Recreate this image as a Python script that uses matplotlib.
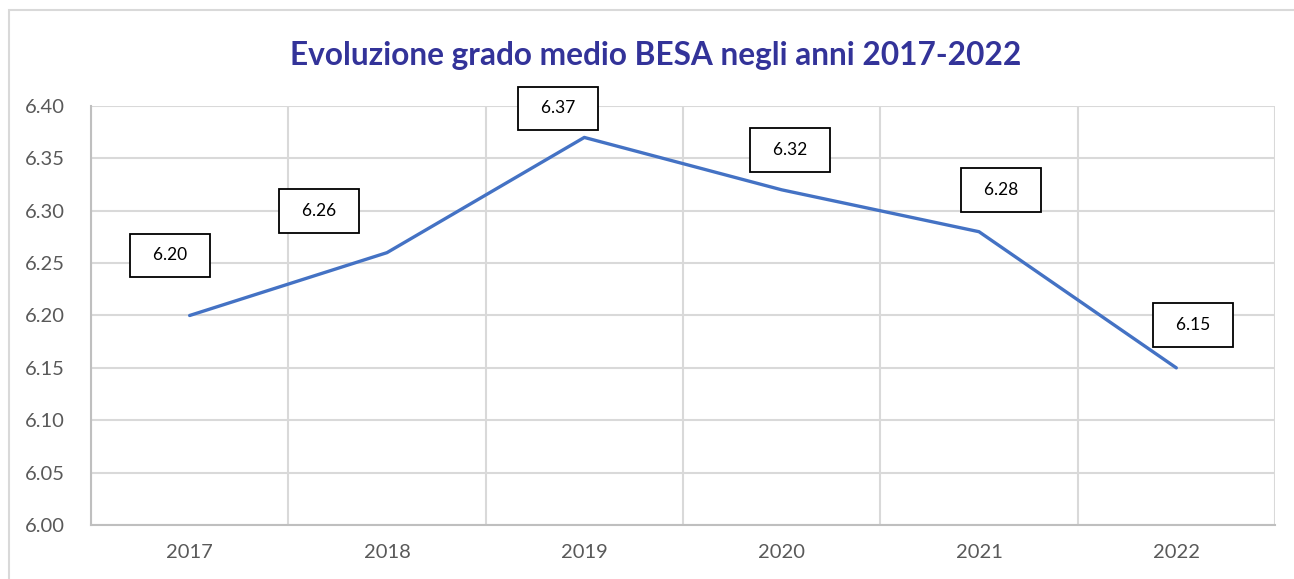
import matplotlib.pyplot as plt
from matplotlib.patches import Rectangle

# Data
years = ['2017', '2018', '2019', '2020', '2021', '2022']
grado_medio = [6.20, 6.26, 6.37, 6.32, 6.28, 6.15]
# label box offsets from each point (pixels), as the boxes were moved by hand
label_dx = [-20, -68, -26, 8, 22, 17]
label_dy = [60, 42, 29, 40, 42, 43]

plt.rcParams['font.family'] = ['Lato', 'DejaVu Sans']

fig = plt.figure(figsize=(12.94, 5.79), dpi=100)
ax = fig.add_axes([0.0703, 0.0933, 0.9150, 0.7236])

# outer chart frame
fig.patches.append(Rectangle((9 / 1294, -0.1), 1.2, 1 - 10 / 579 + 0.1,
                             transform=fig.transFigure, fill=False,
                             ec='#D9D9D9', lw=1.5))

x = list(range(len(years)))
ax.plot(x, grado_medio, color='#4472C4', lw=2.4, solid_capstyle='round', zorder=3)

for xi, v, dx, dy in zip(x, grado_medio, label_dx, label_dy):
    ax.annotate(f'  {v:.2f}  ', (xi, v), xytext=(dx, dy), textcoords='offset pixels',
                ha='center', va='center', fontsize=12.5, color='black',
                bbox=dict(boxstyle='square,pad=0.8', fc='white', ec='black', lw=1.3),
                zorder=4)

ax.set_xlim(-0.5, len(years) - 0.5)
ax.set_ylim(6.00, 6.40)
ax.set_yticks([6.00 + 0.05 * i for i in range(9)])
ax.yaxis.set_major_formatter(plt.FormatStrFormatter('%.2f'))
ax.set_xticks(x)
ax.set_xticklabels(years)
ax.set_xticks([i - 0.5 for i in range(len(years) + 1)], minor=True)

ax.grid(axis='y', which='major', color='#D9D9D9', lw=1.5)
ax.grid(axis='x', which='minor', color='#D9D9D9', lw=1.5)
ax.grid(axis='x', which='major', visible=False)
ax.set_axisbelow(True)

ax.tick_params(axis='both', which='both', length=0, labelsize=14.5, colors='#595959')
ax.tick_params(axis='y', pad=19)
ax.tick_params(axis='x', pad=14)

for side in ['top', 'right']:
    ax.spines[side].set_visible(False)
for side in ['left', 'bottom']:
    ax.spines[side].set_color('#BFBFBF')
    ax.spines[side].set_linewidth(1.5)

fig.text(0.5 * (290 + 1022) / 1294, 1 - 55 / 579, 'Evoluzione grado medio BESA negli anni 2017-2022',
         ha='center', va='center', fontsize=22.8, fontweight='bold', color='#333399')

fig.savefig('out.png', dpi=100)
